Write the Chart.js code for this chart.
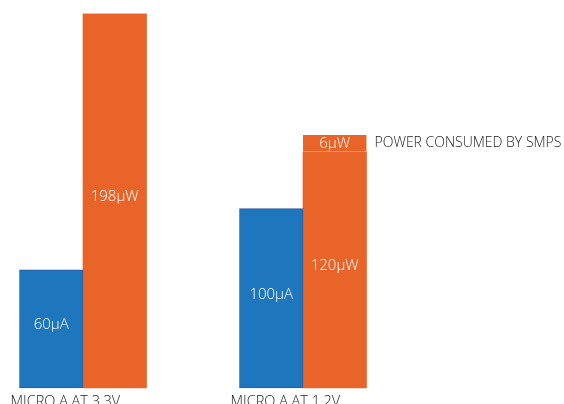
<!DOCTYPE html>
<html>
<head>
    <title>Micro A power</title>
    <script src="https://cdn.jsdelivr.net/npm/chart.js"></script>
    <style>
        html, body { margin: 0; padding: 0; background: #fff; }
        #wrap { width: 564px; height: 404px; }
    </style>
</head>
<body>
    <div id="wrap"><canvas id="myChart"></canvas></div>

    <script>
        // categories
        const categories = ['MICRO A AT 3.3V', 'MICRO A AT 1.2V'];
        // bar heights (common scale, tallest bar = 198)
        const currentBars = [62.5, 95];
        const powerBars = [198, 125];
        const smpsBars = [0, 9];
        // text printed on the bars
        const currentLabels = ['60µA', '100µA'];
        const powerLabels = ['198µW', '120µW'];
        const smpsLabels = ['', '6µW'];
        const smpsNote = 'POWER CONSUMED BY SMPS';

        const blue = '#1e77bd';
        const orange = '#e86428';

        // write labels on the bars and the category names under them
        const textPlugin = {
            id: 'barText',
            afterDatasetsDraw(chart) {
                const ctx = chart.ctx;
                const labelSets = [currentLabels, powerLabels, smpsLabels];
                ctx.save();
                ctx.fillStyle = '#fff';
                ctx.textAlign = 'center';
                ctx.textBaseline = 'middle';
                ctx.font = '300 15px "Open Sans"';
                labelSets.forEach((labels, di) => {
                    const meta = chart.getDatasetMeta(di);
                    meta.data.forEach((bar, i) => {
                        if (!labels[i]) return;
                        const mid = (bar.y + bar.base) / 2;
                        const shift = di === 2 ? 0 : 4;
                        ctx.fillText(labels[i], bar.x, mid - shift);
                    });
                });

                // note next to the SMPS segment
                const smpsBar = chart.getDatasetMeta(2).data[1];
                ctx.fillStyle = '#222';
                ctx.textAlign = 'left';
                ctx.font = '300 14px "Open Sans"';
                ctx.fillText(smpsNote, smpsBar.x + smpsBar.width / 2 + 8, (smpsBar.y + smpsBar.base) / 2);

                // category names, left aligned under each group
                const blueMeta = chart.getDatasetMeta(0);
                ctx.font = '300 14.5px "Open Sans"';
                ctx.textBaseline = 'alphabetic';
                blueMeta.data.forEach((bar, i) => {
                    ctx.fillText(categories[i], bar.x - bar.width / 2 - 9, chart.chartArea.bottom + 18);
                });
                ctx.restore();
            }
        };

        const ctx = document.getElementById('myChart').getContext('2d');
        const myChart = new Chart(ctx, {
            type: 'bar',
            data: {
                labels: categories,
                datasets: [
                    {
                        label: 'Current',
                        data: currentBars,
                        stack: 'current',
                        backgroundColor: blue,
                        borderColor: '#2a5ba3',
                        borderWidth: 1,
                        borderSkipped: false
                    },
                    {
                        label: 'Power',
                        data: powerBars,
                        stack: 'power',
                        backgroundColor: orange,
                        borderWidth: 0
                    },
                    {
                        label: 'SMPS',
                        data: smpsBars,
                        stack: 'power',
                        backgroundColor: orange,
                        borderColor: '#fbe0d2',
                        borderWidth: { top: 0, left: 0, right: 0, bottom: 1 },
                        borderSkipped: false
                    }
                ]
            },
            options: {
                responsive: true,
                maintainAspectRatio: false,
                animation: false,
                layout: { padding: { left: 83, right: 261, top: 14, bottom: 16 } },
                datasets: { bar: { barThickness: 63.5, clip: false } },
                plugins: { legend: { display: false }, tooltip: { enabled: false } },
                scales: {
                    x: { display: false, stacked: true, offset: false },
                    y: { display: false, stacked: true, min: 0, max: 198 }
                }
            },
            plugins: [textPlugin]
        });
    </script>
</body>
</html>
